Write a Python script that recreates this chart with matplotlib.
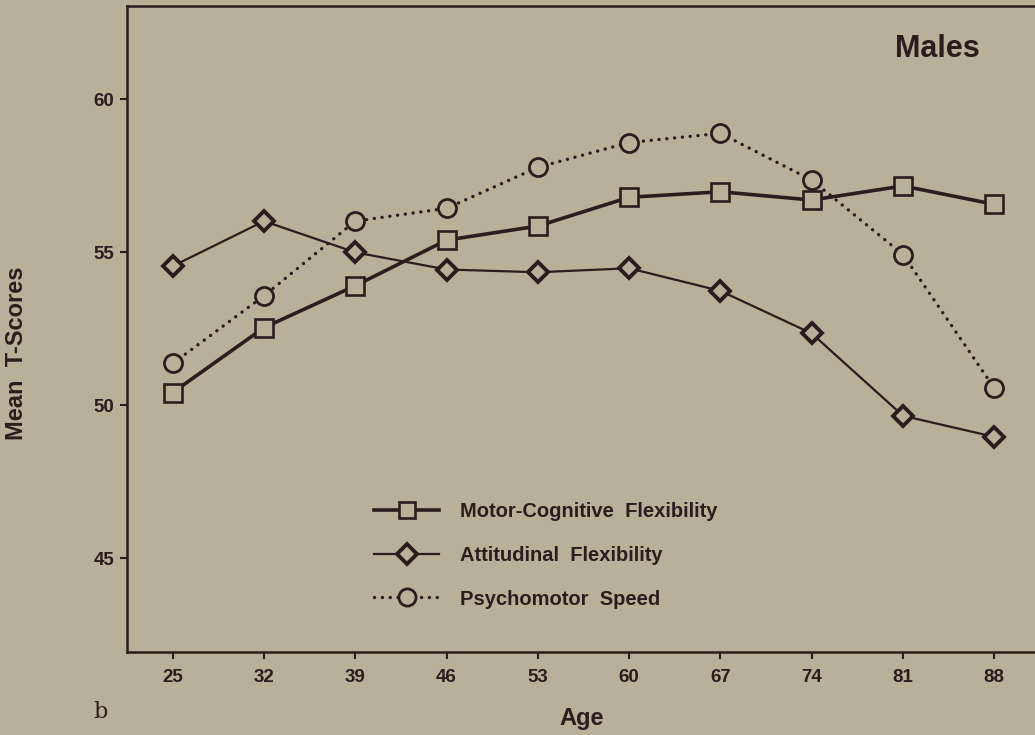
import matplotlib
matplotlib.use("Agg")
import matplotlib.pyplot as plt

# Mean T-scores by age group (males)
ages = [25, 32, 39, 46, 53, 60, 67, 74, 81, 88]
motor_cognitive = [50.41, 52.53, 53.90, 55.39, 55.85, 56.79, 56.97, 56.70, 57.16, 56.56]
attitudinal = [54.54, 56.01, 54.99, 54.43, 54.34, 54.47, 53.73, 52.34, 49.65, 48.96]
psychomotor = [51.36, 53.57, 56.01, 56.43, 57.77, 58.58, 58.88, 57.35, 54.92, 50.55]
y_ticks = [45, 50, 55, 60]

series_labels = ["Motor-Cognitive  Flexibility", "Attitudinal  Flexibility", "Psychomotor  Speed"]

BG = "#b9b099"
INK = "#2b1d1e"
FONT = "Liberation Sans"

plt.rcParams["font.family"] = [FONT, "DejaVu Sans"]

fig = plt.figure(figsize=(10.35, 7.35), dpi=100, facecolor=BG)
ax = fig.add_axes([0.1224, 0.1129, 0.8776, 0.8789], facecolor=BG)

l1, = ax.plot(ages, motor_cognitive, color=INK, lw=2.6, marker="s", ms=12.5,
              mfc=BG, mec=INK, mew=1.9, zorder=3)
l2, = ax.plot(ages, attitudinal, color=INK, lw=1.6, marker="D", ms=10.5,
              mfc=BG, mec=INK, mew=2.8, zorder=3)
l3, = ax.plot(ages, psychomotor, color=INK, lw=2.4, ls=(0, (0.05, 2.3)),
              dash_capstyle="round", marker="o", ms=13, mfc=BG, mec=INK,
              mew=2.0, zorder=4)

ax.set_xlim(21.47, 91.12)
ax.set_ylim(41.93, 63.04)
ax.set_xticks(ages)
ax.set_yticks(y_ticks)
ax.tick_params(axis="both", direction="out", length=5, width=1.5, colors=INK,
               labelsize=13.5)
ax.tick_params(axis="x", pad=7)
ax.tick_params(axis="y", pad=4)
for lab in ax.get_xticklabels() + ax.get_yticklabels():
    lab.set_fontweight("bold")

for side in ["left", "top", "bottom"]:
    ax.spines[side].set_color(INK)
    ax.spines[side].set_linewidth(1.8)
ax.spines["right"].set_visible(False)

fig.text(980 / 1035, 1 - 49 / 735, "Males", ha="right", va="center",
         fontsize=22, fontweight="bold", color=INK)

fig.text(582 / 1035, 1 - 719 / 735, "Age", ha="center", va="center",
         fontsize=17, fontweight="bold", color=INK)
fig.text(17 / 1035, 1 - 353 / 735, "Mean  T-Scores", ha="center", va="center",
         rotation=90, fontsize=17, fontweight="bold", color=INK)
fig.text(100 / 1035, 1 - 712 / 735, "b", ha="center", va="center",
         fontsize=16, family="DejaVu Serif", color=INK)

leg = ax.legend([l1, l2, l3], series_labels, loc="upper left",
                bbox_to_anchor=(374 / 1035, 1 - 502 / 735),
                bbox_transform=fig.transFigure, frameon=False,
                handlelength=3.23, handletextpad=1.05, labelspacing=1.23,
                borderpad=0, borderaxespad=0, fontsize=14.5, markerscale=0.95)
for t in leg.get_texts():
    t.set_fontweight("bold")
    t.set_color(INK)

fig.savefig("out.png", dpi=100, facecolor=BG)
